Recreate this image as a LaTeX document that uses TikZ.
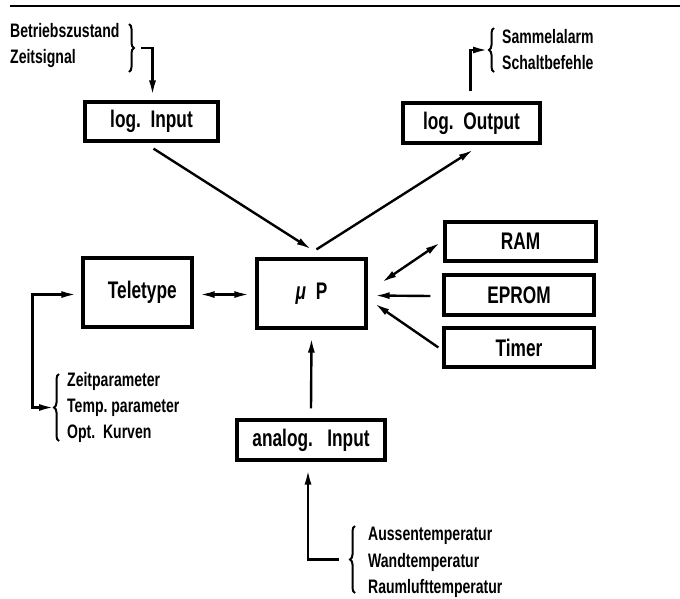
\documentclass[tikz,border=0pt]{standalone}
\usepackage{fontspec}
\setmainfont{Liberation Sans}[FakeStretch=0.72]
\usepackage{tikz}
\usetikzlibrary{arrows.meta, decorations.pathreplacing, calc}

\tikzset{
  box/.style={draw, line width=3.2pt, inner sep=0pt, font=\fontsize{24}{26}\selectfont\bfseries},
  lbl/.style={anchor=west, inner sep=0pt, font=\fontsize{19.5}{21}\selectfont\bfseries},
  arr/.style={line width=2.4pt, -{Latex[length=15pt,width=7pt]}},
  dbl/.style={line width=2.4pt, {Latex[length=15pt,width=7pt]}-{Latex[length=15pt,width=7pt]}},
  brc/.style={line width=2pt, decorate, decoration={brace, amplitude=5pt}}
}

\begin{document}
\begin{tikzpicture}[x=1pt,y=-1pt]
\useasboundingbox (0,0) rectangle (680,598);
\draw[line width=2.4pt] (10,6) -- (680,6);
% blocks
\node[box, minimum width=133, minimum height=39] (login) at (151.5,121.5) {log.\ \ Input};
\node[box, minimum width=137, minimum height=40] (logout) at (471.5,123) {log.\ \ Output};
\node[box, minimum width=109, minimum height=69] (tele) at (137.5,292.5) {\ \ Teletype};
\node[box, minimum width=109, minimum height=69] (mp) at (311.5,293.5) {{\itshape μ}\ \ P};
\node[box, minimum width=151, minimum height=39] (ram) at (520.5,241.5) {RAM};
\node[box, minimum width=150, minimum height=40] (eprom) at (519,295) {EPROM};
\node[box, minimum width=150, minimum height=39] (timer) at (519,347.5) {Timer};
\node[box, minimum width=148, minimum height=40] (anain) at (311,440) {analog.\ \ \ Input};
% signal lists
\node[lbl] (bz) at (10,31) {Betriebszustand};
\node[lbl] (zs) at (10,58) {Zeitsignal};
\draw[brc] (129,24) -- coordinate[midway] (bzc) (129,72);
\node[lbl] (sa) at (502,37) {Sammelalarm};
\node[lbl] (sb) at (502,63) {Schaltbefehle};
\draw[brc] (494,72) -- coordinate[midway] (sac) (494,28);
\node[lbl] (zp) at (67,381) {Zeitparameter};
\node[lbl] (tp) at (67,408) {Temp.\ parameter};
\node[lbl] (ok) at (67,434) {Opt.\ \ Kurven};
\draw[brc] (59,441) -- coordinate[midway] (zpc) (59,374);
\node[lbl] (at) at (368,536) {Aussentemperatur};
\node[lbl] (wt) at (368,562) {Wandtemperatur};
\node[lbl] (rt) at (368,588) {Raumlufttemperatur};
\draw[brc] (355,593) -- coordinate[midway] (atc) (355,526);
% connections
\draw[arr] ($(bzc)+(12,0)$) -| ($(login.north)+(1,-5)$);
\draw[arr] ($(logout.north)+(-1,-10)$) |- ($(sac)+(-6,0)$);
\draw[arr] ($(login.south)+(2,6)$) -- ($(mp.north)+(0,-8)$);
\draw[arr] ($(mp.north)+(5,-8)$) -- ($(logout.south)+(2,5)$);
\draw[dbl] ($(zpc)+(-5,0)$) -| ($(tele.west)+(-49,2)$) -- ($(tele.west)+(-5,2)$);
\draw[dbl] ($(tele.east)+(6,2)$) -- ($(mp.west)+(-6,1)$);
\draw[dbl] ($(mp.east)+(14,-11)$) -- ($(ram.west)+(-3,1)$);
\draw[arr] ($(eprom.west)+(-12,1)$) -- ($(mp.east)+(7,2)$);
\draw[arr] ($(timer.west)+(-4,0)$) -- ($(mp.east)+(7,10)$);
\draw[arr] ($(anain.north)+(0,-10)$) -- ($(mp.south)+(0,8)$);
\draw[arr] ($(atc)+(-16,0)$) -| ($(anain.south)+(-3,8)$);
\end{tikzpicture}
\end{document}
